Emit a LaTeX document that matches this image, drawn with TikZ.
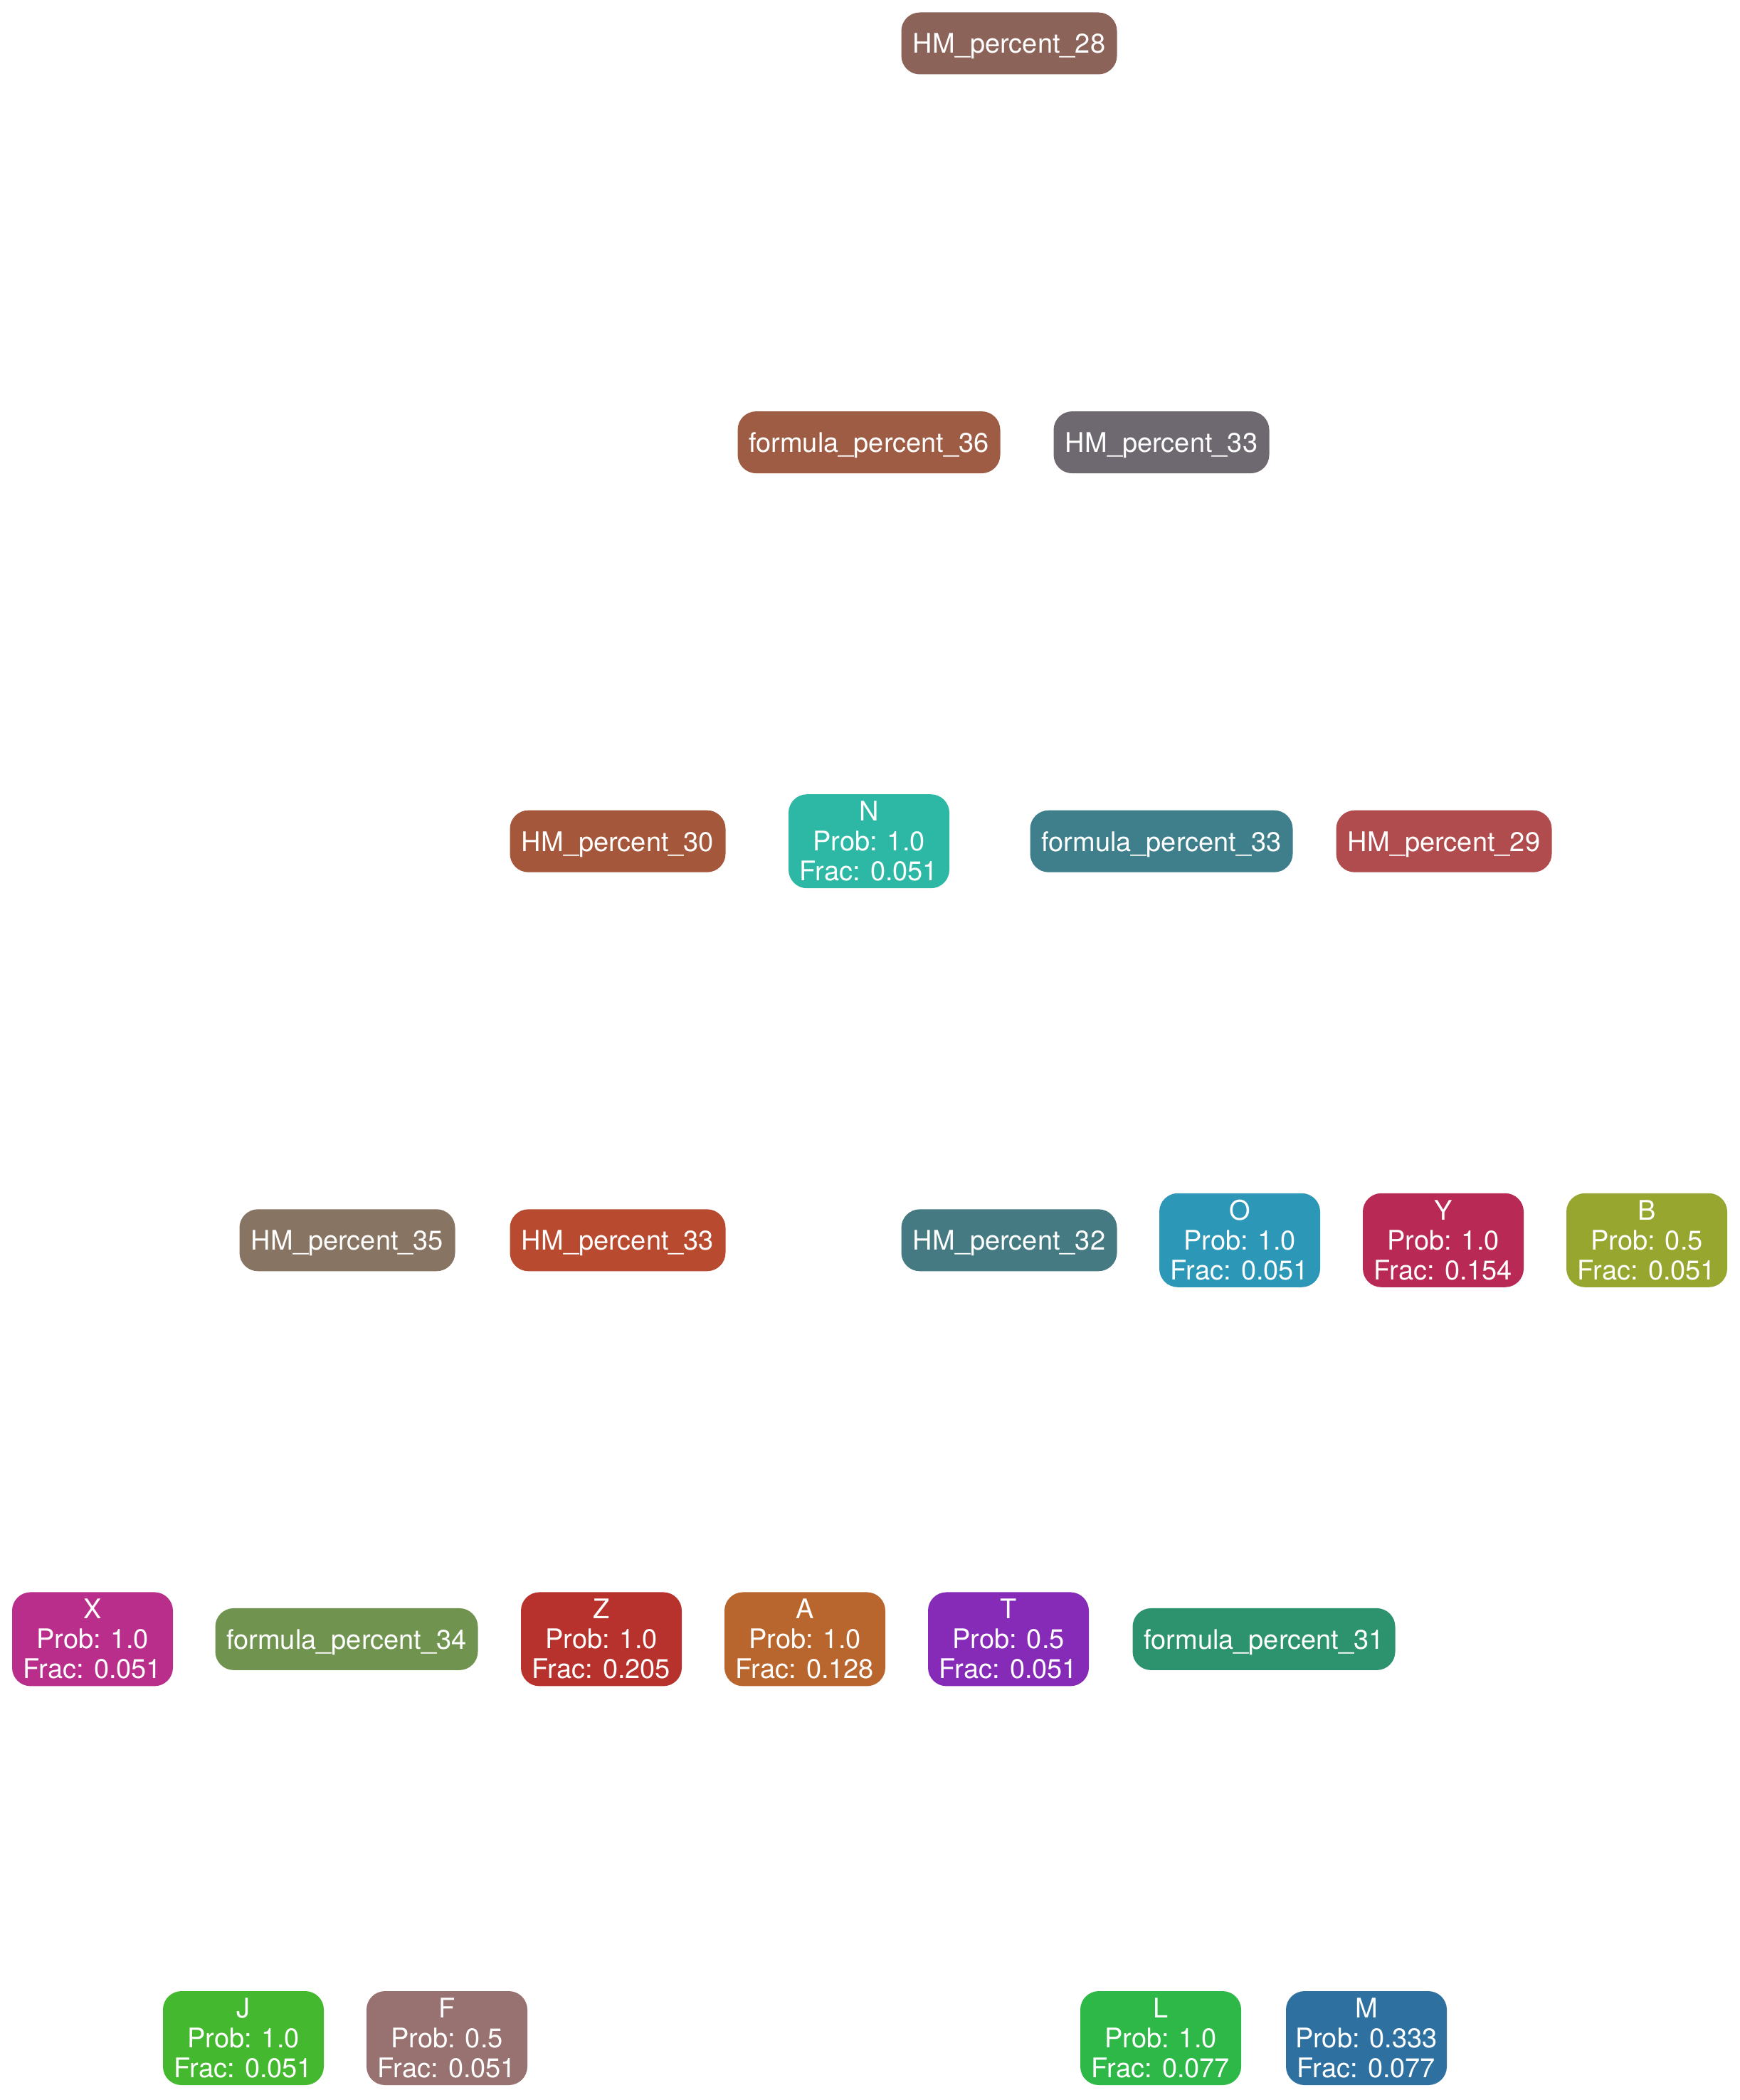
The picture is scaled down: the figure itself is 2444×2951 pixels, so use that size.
\documentclass[tikz,border=0pt]{standalone}
\usepackage{fontspec}
\setmainfont{TeX Gyre Heros}
\begin{document}
\begin{tikzpicture}[x=0.25pt,y=-0.25pt,
  box/.style={rounded corners=6.5pt, inner sep=0pt, text=white, align=center,
    font=\fontsize{9.5}{10.5}\selectfont},
  hm/.style={box, minimum width=75.75pt, minimum height=21.75pt, text depth=0pt},
  fm/.style={box, minimum width=92.25pt, minimum height=21.75pt, text depth=0pt},
  leaf/.style={box, minimum width=56.5pt, minimum height=33pt}]
\useasboundingbox (0,0) rectangle (2444,2951);
\definecolor{cHMa}{RGB}{139,99,89}
\definecolor{cFMa}{RGB}{158,92,69}
\definecolor{cHMb}{RGB}{110,104,112}
\definecolor{cHMc}{RGB}{165,87,60}
\definecolor{cN}{RGB}{45,184,165}
\definecolor{cFMb}{RGB}{62,127,139}
\definecolor{cHMd}{RGB}{176,76,78}
\definecolor{cHMe}{RGB}{136,116,98}
\definecolor{cHMf}{RGB}{184,74,48}
\definecolor{cHMg}{RGB}{69,122,130}
\definecolor{cO}{RGB}{44,151,183}
\definecolor{cY}{RGB}{184,42,85}
\definecolor{cB}{RGB}{151,166,47}
\definecolor{cX}{RGB}{184,46,138}
\definecolor{cFMc}{RGB}{112,148,79}
\definecolor{cZ}{RGB}{184,50,45}
\definecolor{cA}{RGB}{184,102,46}
\definecolor{cT}{RGB}{133,43,184}
\definecolor{cFMd}{RGB}{44,147,110}
\definecolor{cJ}{RGB}{68,184,47}
\definecolor{cF}{RGB}{152,114,112}
\definecolor{cL}{RGB}{45,184,71}
\definecolor{cM}{RGB}{46,113,160}

% level 0
\node[hm, fill=cHMa] (hm28) at (1418,61) {HM\_percent\_28};
% level 1
\node[fm, fill=cFMa] (fm36) at (1221,621.6) {formula\_percent\_36};
\node[hm, fill=cHMb] (hm33a) at (1632,621.6) {HM\_percent\_33};
% level 2
\node[hm, fill=cHMc] (hm30) at (868,1182.2) {HM\_percent\_30};
\node[leaf, fill=cN] (n) at (1221,1182.2) {N\\Prob: 1.0\\Frac: 0.051};
\node[fm, fill=cFMb] (fm33) at (1632,1182.2) {formula\_percent\_33};
\node[hm, fill=cHMd] (hm29) at (2029,1182.2) {HM\_percent\_29};
% level 3
\node[hm, fill=cHMe] (hm35) at (488,1742.8) {HM\_percent\_35};
\node[hm, fill=cHMf] (hm33b) at (868,1742.8) {HM\_percent\_33};
\node[hm, fill=cHMg] (hm32) at (1418,1742.8) {HM\_percent\_32};
\node[leaf, fill=cO] (o) at (1742,1742.8) {O\\Prob: 1.0\\Frac: 0.051};
\node[leaf, fill=cY] (y) at (2028,1742.8) {Y\\Prob: 1.0\\Frac: 0.154};
\node[leaf, fill=cB] (b) at (2314,1742.8) {B\\Prob: 0.5\\Frac: 0.051};
% level 4
\node[leaf, fill=cX] (x) at (130,2303.4) {X\\Prob: 1.0\\Frac: 0.051};
\node[fm, fill=cFMc] (fm34) at (487,2303.4) {formula\_percent\_34};
\node[leaf, fill=cZ] (z) at (845,2303.4) {Z\\Prob: 1.0\\Frac: 0.205};
\node[leaf, fill=cA] (a) at (1131,2303.4) {A\\Prob: 1.0\\Frac: 0.128};
\node[leaf, fill=cT] (t) at (1417,2303.4) {T\\Prob: 0.5\\Frac: 0.051};
\node[fm, fill=cFMd] (fm31) at (1776,2303.4) {formula\_percent\_31};
% level 5
\node[leaf, fill=cJ] (j) at (342,2864) {J\\Prob: 1.0\\Frac: 0.051};
\node[leaf, fill=cF] (f) at (628,2864) {F\\Prob: 0.5\\Frac: 0.051};
\node[leaf, fill=cL] (l) at (1631,2864) {L\\Prob: 1.0\\Frac: 0.077};
\node[leaf, fill=cM] (m) at (1920,2864) {M\\Prob: 0.333\\Frac: 0.077};
\end{tikzpicture}
\end{document}
